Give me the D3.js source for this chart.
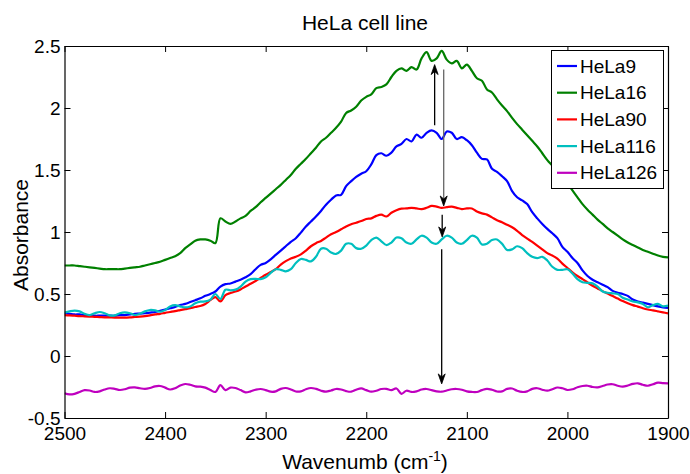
<!DOCTYPE html>
<html>
<head>
<meta charset="utf-8">
<script src="https://cdn.jsdelivr.net/npm/d3@7"></script>
<style>
  body { margin: 0; background: #fff; }
  svg { display: block; font-family: "Liberation Sans", Arial, sans-serif; }
</style>
</head>
<body>
<svg id="chart" width="690" height="474"></svg>
<script>
// wavenumber grid (cm^-1), 2500 -> 1900
const wavenumber = [
  2500,2495,2490,2485,2480,2475,2470,2465,2460,2455,
  2450,2445,2440,2435,2430,2425,2420,2415,2410,2405,
  2400,2395,2390,2385,2380,2375,2370,2365,2360,2355,
  2350,2345,2340,2335,2330,2325,2320,2315,2310,2305,
  2300,2295,2290,2285,2280,2275,2270,2265,2260,2255,
  2250,2245,2240,2235,2230,2225,2220,2215,2210,2205,
  2200,2195,2190,2185,2180,2175,2170,2165,2160,2155,
  2150,2145,2140,2135,2130,2125,2120,2115,2110,2105,
  2100,2095,2090,2085,2080,2075,2070,2065,2060,2055,
  2050,2045,2040,2035,2030,2025,2020,2015,2010,2005,
  2000,1995,1990,1985,1980,1975,1970,1965,1960,1955,
  1950,1945,1940,1935,1930,1925,1920,1915,1910,1905,
  1900
];

const hela9 = [
  0.345,0.34,0.335,0.335,0.33,0.33,0.325,0.325,0.325,0.325,
  0.325,0.33,0.33,0.335,0.34,0.342,0.345,0.35,0.355,0.365,
  0.375,0.385,0.395,0.41,0.42,0.435,0.45,0.465,0.485,0.50,
  0.52,0.56,0.58,0.585,0.60,0.615,0.635,0.66,0.70,0.735,
  0.75,0.78,0.815,0.85,0.885,0.92,0.95,0.995,1.045,1.085,
  1.125,1.17,1.22,1.26,1.295,1.30,1.37,1.41,1.445,1.47,
  1.49,1.545,1.62,1.635,1.615,1.64,1.69,1.71,1.75,1.73,
  1.785,1.76,1.80,1.82,1.80,1.75,1.81,1.80,1.75,1.765,
  1.74,1.70,1.64,1.59,1.585,1.51,1.485,1.45,1.41,1.33,
  1.28,1.255,1.225,1.16,1.11,1.065,1.025,0.99,0.95,0.88,
  0.84,0.79,0.75,0.69,0.645,0.615,0.595,0.575,0.555,0.525,
  0.51,0.50,0.485,0.455,0.44,0.43,0.42,0.41,0.40,0.392,
  0.387
];

const hela16 = [
  0.73,0.73,0.73,0.725,0.72,0.715,0.71,0.705,0.70,0.70,
  0.70,0.70,0.705,0.71,0.715,0.72,0.73,0.74,0.75,0.76,
  0.775,0.79,0.805,0.83,0.87,0.90,0.93,0.94,0.94,0.93,
  0.91,1.11,1.085,1.065,1.085,1.11,1.13,1.17,1.20,1.24,
  1.275,1.31,1.345,1.38,1.42,1.46,1.51,1.55,1.59,1.635,
  1.68,1.73,1.76,1.80,1.84,1.89,1.96,1.98,2.01,2.06,
  2.09,2.11,2.16,2.17,2.19,2.25,2.30,2.32,2.30,2.33,
  2.31,2.40,2.45,2.38,2.40,2.46,2.39,2.36,2.38,2.32,
  2.35,2.30,2.24,2.22,2.15,2.125,2.07,2.02,1.975,1.92,
  1.87,1.825,1.78,1.735,1.69,1.635,1.58,1.535,1.49,1.44,
  1.39,1.335,1.28,1.225,1.18,1.14,1.10,1.065,1.03,1.00,
  0.97,0.94,0.915,0.895,0.875,0.855,0.84,0.825,0.81,0.80,
  0.795
];

const hela90 = [
  0.33,0.328,0.325,0.322,0.32,0.318,0.316,0.314,0.312,0.311,
  0.31,0.31,0.31,0.312,0.315,0.318,0.322,0.328,0.335,0.34,
  0.348,0.355,0.362,0.37,0.378,0.386,0.395,0.403,0.42,0.45,
  0.475,0.44,0.49,0.508,0.52,0.537,0.56,0.582,0.605,0.63,
  0.655,0.677,0.70,0.737,0.765,0.787,0.80,0.82,0.85,0.885,
  0.91,0.928,0.955,0.982,1.0,1.022,1.045,1.063,1.075,1.088,
  1.105,1.11,1.13,1.14,1.125,1.155,1.175,1.188,1.19,1.195,
  1.19,1.185,1.195,1.21,1.205,1.194,1.20,1.205,1.195,1.185,
  1.19,1.19,1.165,1.15,1.14,1.118,1.095,1.078,1.058,1.038,
  1.01,0.975,0.947,0.92,0.89,0.86,0.83,0.81,0.785,0.745,
  0.71,0.675,0.645,0.62,0.593,0.567,0.545,0.523,0.503,0.483,
  0.463,0.443,0.425,0.41,0.398,0.385,0.375,0.368,0.36,0.352,
  0.344
];

const hela116 = [
  0.35,0.36,0.366,0.36,0.34,0.33,0.345,0.355,0.345,0.328,
  0.328,0.345,0.352,0.345,0.33,0.34,0.36,0.371,0.368,0.357,
  0.37,0.40,0.41,0.40,0.392,0.40,0.425,0.438,0.44,0.455,
  0.50,0.46,0.535,0.53,0.535,0.56,0.60,0.62,0.622,0.62,
  0.635,0.67,0.70,0.695,0.683,0.70,0.75,0.782,0.775,0.763,
  0.80,0.865,0.865,0.835,0.823,0.85,0.905,0.905,0.87,0.865,
  0.89,0.935,0.955,0.925,0.895,0.915,0.955,0.95,0.915,0.905,
  0.94,0.97,0.955,0.915,0.905,0.94,0.97,0.955,0.915,0.905,
  0.935,0.97,0.955,0.90,0.905,0.935,0.94,0.905,0.855,0.86,
  0.885,0.87,0.83,0.80,0.79,0.80,0.77,0.72,0.695,0.695,
  0.70,0.665,0.62,0.595,0.59,0.586,0.56,0.52,0.51,0.505,
  0.50,0.47,0.455,0.44,0.433,0.42,0.393,0.41,0.42,0.40,
  0.406
];

const hela126 = [
  -0.30,-0.31,-0.305,-0.29,-0.275,-0.278,-0.29,-0.285,-0.27,-0.26,
  -0.265,-0.274,-0.268,-0.255,-0.253,-0.26,-0.265,-0.258,-0.245,-0.242,
  -0.255,-0.27,-0.26,-0.238,-0.226,-0.232,-0.245,-0.247,-0.255,-0.274,
  -0.29,-0.235,-0.275,-0.255,-0.258,-0.275,-0.293,-0.285,-0.272,-0.266,
  -0.275,-0.288,-0.285,-0.265,-0.258,-0.27,-0.286,-0.285,-0.268,-0.258,
  -0.265,-0.28,-0.288,-0.278,-0.266,-0.27,-0.283,-0.288,-0.272,-0.261,
  -0.275,-0.288,-0.28,-0.266,-0.265,-0.275,-0.262,-0.305,-0.28,-0.29,
  -0.285,-0.27,-0.266,-0.275,-0.285,-0.288,-0.278,-0.268,-0.266,-0.272,
  -0.285,-0.29,-0.29,-0.275,-0.265,-0.272,-0.286,-0.285,-0.265,-0.262,
  -0.28,-0.29,-0.285,-0.265,-0.26,-0.272,-0.28,-0.268,-0.254,-0.26,
  -0.274,-0.268,-0.252,-0.242,-0.24,-0.25,-0.253,-0.242,-0.23,-0.228,
  -0.24,-0.247,-0.238,-0.225,-0.22,-0.232,-0.24,-0.228,-0.215,-0.218,
  -0.22
];

const seriesNames = ["HeLa9", "HeLa16", "HeLa90", "HeLa116", "HeLa126"];
const seriesValues = [hela9, hela16, hela90, hela116, hela126];
const seriesColors = ["#0000ff", "#008000", "#ff0000", "#00bfbf", "#bf00bf"];

const xTicks = [2500, 2400, 2300, 2200, 2100, 2000, 1900];
const yTicks = [-0.5, 0, 0.5, 1, 1.5, 2, 2.5];

// annotation arrows: [wavenumber, start absorbance, end absorbance]
const arrows = [
  [2132, 1.86, 2.35],
  [2123, 2.31, 1.21],
  [2124.5, 1.14, 0.96],
  [2125, 0.86, -0.225]
];
const arrowColors = ["#000", "#666", "#000", "#000"];

const svg = d3.select("#chart");
const plotLeft = 64.5, plotRight = 668, plotTop = 46, plotBottom = 418;

const x = d3.scaleLinear().domain([2500, 1900]).range([plotLeft, plotRight]);
const y = d3.scaleLinear().domain([-0.5, 2.5]).range([plotBottom, plotTop]);

svg.append("rect").attr("width", 690).attr("height", 474).attr("fill", "#fff");

svg.append("defs").append("clipPath").attr("id", "plotClip")
  .append("rect")
  .attr("x", plotLeft).attr("y", plotTop)
  .attr("width", plotRight - plotLeft).attr("height", plotBottom - plotTop);

// Lines
const line = d3.line()
  .x((d) => x(d[0]))
  .y((d) => y(d[1]))
  .curve(d3.curveCatmullRom.alpha(0.5));

const plot = svg.append("g").attr("clip-path", "url(#plotClip)");

seriesValues.forEach((vals, i) => {
  plot.append("path")
    .datum(wavenumber.map((w, j) => [w, vals[j]]))
    .attr("fill", "none")
    .attr("stroke", seriesColors[i])
    .attr("stroke-width", 2.2)
    .attr("stroke-linejoin", "round")
    .attr("d", line);
});

// Arrows
arrows.forEach((a, i) => {
  const ax = x(a[0]);
  const y1 = y(a[1]);
  const y2 = y(a[2]);
  const dir = y2 < y1 ? -1 : 1;
  plot.append("line")
    .attr("x1", ax).attr("x2", ax)
    .attr("y1", y1).attr("y2", y2 - dir * 6)
    .attr("stroke", arrowColors[i])
    .attr("stroke-width", 1.3);
  const hl = 10, hw = 3.5;
  plot.append("path")
    .attr("d", `M${ax},${y2} L${ax - hw},${y2 - dir * hl} L${ax},${y2 - dir * 7} L${ax + hw},${y2 - dir * hl} Z`)
    .attr("fill", "#000")
    .attr("stroke", "#000")
    .attr("stroke-width", 0.8);
});

// Axes (box with inward ticks)
const fmt = (d) => String(d);

const xAxisB = svg.append("g")
  .attr("transform", `translate(0,${plotBottom})`)
  .call(d3.axisBottom(x).tickValues(xTicks).tickSizeInner(-6).tickSizeOuter(0).tickPadding(9).tickFormat(fmt));
const xAxisT = svg.append("g")
  .attr("transform", `translate(0,${plotTop})`)
  .call(d3.axisTop(x).tickValues(xTicks).tickSizeInner(-6).tickSizeOuter(0).tickFormat(""));
const yAxisL = svg.append("g")
  .attr("transform", `translate(${plotLeft},0)`)
  .call(d3.axisLeft(y).tickValues(yTicks).tickSizeInner(-6).tickSizeOuter(0).tickPadding(4).tickFormat(fmt));
const yAxisR = svg.append("g")
  .attr("transform", `translate(${plotRight},0)`)
  .call(d3.axisRight(y).tickValues(yTicks).tickSizeInner(-6).tickSizeOuter(0).tickFormat(""));

[xAxisB, xAxisT, yAxisL, yAxisR].forEach((g) => {
  g.select(".domain").attr("stroke", "#000").attr("stroke-width", 1.2);
  g.selectAll(".tick line").attr("stroke", "#000").attr("stroke-width", 1);
  g.selectAll("text")
    .attr("fill", "#000")
    .style("font-size", "19px")
    .style("font-family", "'Liberation Sans', Arial, sans-serif");
});

// Titles
svg.append("text")
  .attr("x", 365).attr("y", 30)
  .attr("text-anchor", "middle")
  .style("font-size", "21px")
  .text("HeLa cell line");

const xLab = svg.append("text")
  .attr("x", 365).attr("y", 469)
  .attr("text-anchor", "middle")
  .style("font-size", "21px");
xLab.append("tspan").text("Wavenumb (cm");
xLab.append("tspan").attr("dy", -8).style("font-size", "14px").text("-1");
xLab.append("tspan").attr("dy", 8).text(")");

svg.append("text")
  .attr("transform", "translate(28,235) rotate(-90)")
  .attr("text-anchor", "middle")
  .style("font-size", "21px")
  .text("Absorbance");

// Legend
const legend = svg.append("g");
legend.append("rect")
  .attr("x", 551.5).attr("y", 50.5)
  .attr("width", 112).attr("height", 138)
  .attr("fill", "#fff")
  .attr("stroke", "#000")
  .attr("stroke-width", 1);

seriesNames.forEach((name, i) => {
  const ly = 66 + i * 26.7;
  legend.append("line")
    .attr("x1", 557).attr("x2", 577)
    .attr("y1", ly).attr("y2", ly)
    .attr("stroke", seriesColors[i])
    .attr("stroke-width", 2.2);
  legend.append("text")
    .attr("x", 580).attr("y", ly)
    .attr("dy", "0.35em")
    .style("font-size", "19px")
    .text(name);
});
</script>
</body>
</html>
